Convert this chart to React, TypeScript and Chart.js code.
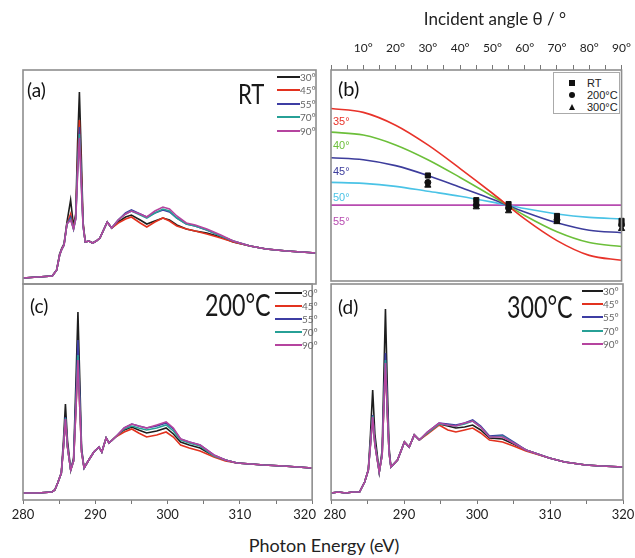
import React, { useEffect, useRef } from 'react';
import { Chart, registerables } from 'chart.js';

Chart.register(...registerables);

const FONT = 'Lato, "Open Sans", "DejaVu Sans", sans-serif';
const ARIAL = '"Liberation Sans", Arial, sans-serif';

// ---------- shared labels ----------
const angleLabels = ['30°', '45°', '55°', '70°', '90°'];
const specColors = ['#1e1e1e', '#e2321f', '#3d3da3', '#27a096', '#b5449f'];
const energyTickValues = [280, 290, 300, 310, 320];
const angleTickValues = [10, 20, 30, 40, 50, 60, 70, 80, 90];

// ---------- panel (a): RT ----------
const energyA = [280, 282, 284, 284.6, 285.0, 285.3, 285.6, 286.0, 286.5, 286.9, 287.2, 287.45, 287.7, 287.95, 288.2, 288.5, 289, 289.5, 290, 290.5, 291, 291.5, 292.1, 293, 294, 294.8, 296, 296.9, 298, 299.1, 300, 301, 302.3, 303.5, 305.1, 307, 308.7, 311, 313.2, 316, 320];
const rt30 = [0.06, 0.07, 0.08, 0.14, 0.30, 0.36, 0.40, 0.62, 0.84, 0.58, 0.70, 1.40, 1.92, 1.30, 0.62, 0.42, 0.43, 0.41, 0.43, 0.46, 0.54, 0.62, 0.56, 0.62, 0.67, 0.69, 0.64, 0.60, 0.63, 0.66, 0.64, 0.59, 0.55, 0.53, 0.51, 0.47, 0.42, 0.38, 0.35, 0.33, 0.31];
const rt45 = [0.06, 0.07, 0.08, 0.14, 0.29, 0.35, 0.39, 0.60, 0.70, 0.56, 0.67, 1.22, 1.64, 1.13, 0.60, 0.42, 0.43, 0.41, 0.43, 0.46, 0.54, 0.62, 0.56, 0.61, 0.65, 0.67, 0.61, 0.57, 0.62, 0.66, 0.63, 0.58, 0.55, 0.53, 0.50, 0.46, 0.42, 0.38, 0.35, 0.33, 0.31];
const rt55 = [0.06, 0.07, 0.08, 0.14, 0.29, 0.35, 0.39, 0.60, 0.67, 0.55, 0.66, 1.17, 1.57, 1.08, 0.59, 0.42, 0.43, 0.41, 0.43, 0.46, 0.54, 0.62, 0.56, 0.64, 0.71, 0.74, 0.70, 0.67, 0.71, 0.74, 0.72, 0.66, 0.60, 0.58, 0.54, 0.48, 0.43, 0.38, 0.35, 0.33, 0.31];
const rt70 = [0.06, 0.07, 0.08, 0.14, 0.29, 0.35, 0.39, 0.60, 0.65, 0.55, 0.65, 1.12, 1.50, 1.03, 0.58, 0.42, 0.43, 0.41, 0.43, 0.46, 0.54, 0.62, 0.56, 0.64, 0.70, 0.73, 0.69, 0.66, 0.71, 0.75, 0.73, 0.66, 0.60, 0.58, 0.54, 0.48, 0.43, 0.38, 0.35, 0.33, 0.31];
const rt90 = [0.06, 0.07, 0.08, 0.14, 0.29, 0.35, 0.39, 0.60, 0.64, 0.55, 0.65, 1.09, 1.46, 1.00, 0.58, 0.42, 0.43, 0.41, 0.43, 0.46, 0.54, 0.62, 0.56, 0.64, 0.70, 0.73, 0.70, 0.67, 0.73, 0.77, 0.75, 0.68, 0.61, 0.59, 0.55, 0.49, 0.43, 0.38, 0.35, 0.33, 0.31];

// ---------- panel (c): 200°C ----------
const energyC = [280, 282, 284, 284.4, 284.8, 285.3, 285.6, 285.87, 286.15, 286.6, 287.0, 287.35, 287.6, 287.85, 288.1, 288.45, 289.1, 289.8, 290.5, 290.9, 291.5, 291.9, 292.8, 294, 295.05, 296, 297.1, 298.5, 299.8, 300.8, 301.8, 303, 304.5, 306.4, 308, 309.6, 311.5, 313.3, 316, 320];
const c200_30 = [0.07, 0.07, 0.08, 0.10, 0.17, 0.27, 0.60, 0.96, 0.60, 0.30, 0.42, 1.25, 1.88, 1.22, 0.52, 0.32, 0.40, 0.48, 0.53, 0.48, 0.62, 0.57, 0.63, 0.70, 0.73, 0.70, 0.67, 0.69, 0.72, 0.66, 0.58, 0.55, 0.52, 0.44, 0.40, 0.37, 0.36, 0.35, 0.34, 0.32];
const c200_45 = [0.07, 0.07, 0.08, 0.10, 0.17, 0.27, 0.53, 0.81, 0.53, 0.30, 0.39, 0.95, 1.40, 0.93, 0.48, 0.32, 0.40, 0.48, 0.53, 0.48, 0.62, 0.57, 0.63, 0.68, 0.71, 0.67, 0.63, 0.65, 0.68, 0.63, 0.55, 0.52, 0.49, 0.43, 0.39, 0.37, 0.36, 0.35, 0.34, 0.32];
const c200_55 = [0.07, 0.07, 0.08, 0.10, 0.17, 0.27, 0.54, 0.83, 0.54, 0.30, 0.40, 1.07, 1.60, 1.05, 0.50, 0.32, 0.40, 0.48, 0.53, 0.48, 0.62, 0.57, 0.63, 0.72, 0.76, 0.74, 0.72, 0.74, 0.77, 0.71, 0.61, 0.58, 0.55, 0.45, 0.40, 0.37, 0.36, 0.35, 0.34, 0.32];
const c200_70 = [0.07, 0.07, 0.08, 0.10, 0.17, 0.27, 0.53, 0.82, 0.53, 0.30, 0.39, 0.98, 1.45, 0.96, 0.48, 0.32, 0.40, 0.48, 0.53, 0.48, 0.62, 0.57, 0.63, 0.71, 0.74, 0.72, 0.70, 0.72, 0.75, 0.69, 0.60, 0.57, 0.54, 0.44, 0.40, 0.37, 0.36, 0.35, 0.34, 0.32];
const c200_90 = [0.07, 0.07, 0.08, 0.10, 0.17, 0.27, 0.53, 0.81, 0.53, 0.30, 0.39, 0.95, 1.40, 0.93, 0.48, 0.32, 0.40, 0.48, 0.53, 0.48, 0.62, 0.57, 0.63, 0.72, 0.76, 0.74, 0.72, 0.75, 0.78, 0.72, 0.61, 0.58, 0.55, 0.45, 0.40, 0.37, 0.36, 0.35, 0.34, 0.32];

// ---------- panel (d): 300°C ----------
const energyD = [280, 281, 282, 283, 283.9, 284.6, 285.1, 285.4, 285.7, 286.0, 286.6, 287.0, 287.2, 287.45, 287.7, 287.95, 288.2, 289.1, 290.05, 290.7, 291.4, 292.1, 293.2, 294.8, 296, 297.1, 298.3, 299.4, 300.5, 301.7, 303.5, 305, 306.7, 309.9, 312, 314.9, 317, 320];
const c300_30 = [0.07, 0.08, 0.07, 0.08, 0.08, 0.18, 0.30, 0.66, 1.10, 0.66, 0.28, 0.50, 1.15, 1.91, 1.15, 0.52, 0.33, 0.40, 0.58, 0.53, 0.65, 0.60, 0.67, 0.76, 0.74, 0.72, 0.73, 0.75, 0.70, 0.62, 0.61, 0.56, 0.50, 0.42, 0.38, 0.35, 0.34, 0.33];
const c300_45 = [0.07, 0.08, 0.07, 0.08, 0.08, 0.18, 0.30, 0.56, 0.84, 0.56, 0.28, 0.45, 0.88, 1.37, 0.88, 0.47, 0.33, 0.40, 0.58, 0.53, 0.65, 0.60, 0.66, 0.75, 0.70, 0.68, 0.70, 0.72, 0.67, 0.60, 0.58, 0.54, 0.49, 0.42, 0.38, 0.35, 0.34, 0.33];
const c300_55 = [0.07, 0.08, 0.07, 0.08, 0.08, 0.18, 0.30, 0.57, 0.85, 0.57, 0.28, 0.46, 0.93, 1.47, 0.93, 0.48, 0.33, 0.40, 0.58, 0.53, 0.65, 0.60, 0.68, 0.77, 0.76, 0.75, 0.77, 0.80, 0.74, 0.64, 0.65, 0.58, 0.50, 0.42, 0.38, 0.35, 0.34, 0.33];
const c300_70 = [0.07, 0.08, 0.07, 0.08, 0.08, 0.18, 0.30, 0.56, 0.84, 0.56, 0.28, 0.45, 0.89, 1.40, 0.89, 0.47, 0.33, 0.40, 0.58, 0.53, 0.65, 0.60, 0.67, 0.76, 0.75, 0.74, 0.76, 0.79, 0.73, 0.63, 0.64, 0.57, 0.50, 0.42, 0.38, 0.35, 0.34, 0.33];
const c300_90 = [0.07, 0.08, 0.07, 0.08, 0.08, 0.18, 0.30, 0.55, 0.83, 0.55, 0.28, 0.45, 0.88, 1.37, 0.88, 0.47, 0.33, 0.40, 0.58, 0.53, 0.65, 0.60, 0.68, 0.77, 0.75, 0.74, 0.77, 0.79, 0.73, 0.63, 0.63, 0.57, 0.50, 0.42, 0.38, 0.35, 0.34, 0.33];

// ---------- panel (b): angular dependence ----------
const fitAngles = [0, 10, 20, 30, 40, 50, 60, 70, 80, 90];
const tiltLabels = ['35°', '40°', '45°', '50°', '55°'];
const tiltColors = ['#e8332a', '#6cbf3a', '#3d3d9c', '#4ac3e6', '#b74bb0'];
const fit35 = [1.75, 1.71, 1.58, 1.38, 1.14, 0.89, 0.63, 0.41, 0.26, 0.21];
const fit40 = [1.51, 1.48, 1.38, 1.23, 1.05, 0.86, 0.665, 0.50, 0.39, 0.35];
const fit45 = [1.25, 1.23, 1.17, 1.07, 0.95, 0.83, 0.70, 0.59, 0.515, 0.49];
const fit50 = [1.00, 0.99, 0.96, 0.91, 0.86, 0.80, 0.735, 0.68, 0.645, 0.63];
const fit55 = [0.77, 0.77, 0.77, 0.77, 0.77, 0.77, 0.77, 0.77, 0.77, 0.77];
const measuredAngles = [30, 45, 55, 70, 90];
const sampleLabels = ['RT', '200°C', '300°C'];
const rtPoints = [1.07, 0.82, 0.78, 0.66, 0.61];
const c200Points = [1.00, 0.77, 0.74, 0.62, 0.57];
const c300Points = [0.97, 0.75, 0.71, 0.60, 0.53];

const PADX = 18;
const AXIS_H = 26;

const boxPlugin = {
  id: 'panelBox',
  afterDatasetsDraw(chart: any) {
    const { ctx, chartArea } = chart;
    ctx.save();
    ctx.strokeStyle = '#8e8e8e';
    ctx.lineWidth = 1.6;
    ctx.strokeRect(chartArea.left, chartArea.top, chartArea.right - chartArea.left, chartArea.bottom - chartArea.top);
    ctx.restore();
  },
};

function spectrumConfig(energy: number[], series: number[][], ymax: number, showAxis: boolean, side: 'left' | 'right'): any {
  // dataset 0 is drawn on top -> 90° first, 30° last
  const order = [4, 3, 2, 1, 0];
  const xScale: any = {
    type: 'linear',
    min: 280,
    max: 320,
    display: showAxis,
    position: 'bottom',
    grid: { drawOnChartArea: false, drawTicks: true, tickLength: 4, color: '#777', lineWidth: 1 },
    border: { display: false },
    ticks: {
      stepSize: 5,
      autoSkip: false,
      maxRotation: 0,
      minRotation: 0,
      padding: 3,
      color: '#222',
      font: { family: FONT, size: 13 },
      callback: (v: number) => {
        if (!energyTickValues.includes(v)) return '';
        if (side === 'left' && v === 320) return '320\u2007\u2007';
        if (side === 'right' && v === 280) return '\u2007280';
        return String(v);
      },
    },
  };
  if (showAxis) {
    xScale.afterFit = (s: any) => {
      s.height = AXIS_H;
    };
  }
  return {
    type: 'line',
    data: {
      datasets: order.map((k) => ({
        label: angleLabels[k],
        data: energy.map((e, i) => ({ x: e, y: series[k][i] })),
        borderColor: specColors[k],
        borderWidth: 1.6,
        pointRadius: 0,
        tension: 0,
        fill: false,
      })),
    },
    options: {
      responsive: false,
      animation: false,
      layout: { padding: { left: PADX, right: PADX, top: 2, bottom: 2 } },
      plugins: { legend: { display: false }, tooltip: { enabled: false } },
      scales: {
        x: xScale,
        y: { display: false, min: 0, max: ymax },
      },
    },
    plugins: [boxPlugin],
  };
}

function angleConfig(): any {
  const fits = [fit35, fit40, fit45, fit50, fit55];
  const pts = [rtPoints, c200Points, c300Points];
  const styles = ['rect', 'circle', 'triangle'];
  const radii = [3.6, 3, 3.6];
  return {
    type: 'line',
    data: {
      datasets: [
        ...pts.map((p, j) => ({
          label: sampleLabels[j],
          data: measuredAngles.map((a, i) => ({ x: a, y: p[i] })),
          showLine: false,
          pointStyle: styles[j],
          pointRadius: radii[j],
          backgroundColor: '#111',
          borderColor: '#111',
          borderWidth: 1,
          clip: false,
        })),
        ...fits.map((f, k) => ({
          label: tiltLabels[k],
          data: fitAngles.map((a, i) => ({ x: a, y: f[i] })),
          borderColor: tiltColors[k],
          borderWidth: 1.6,
          pointRadius: 0,
          cubicInterpolationMode: 'monotone',
          fill: false,
        })),
      ],
    },
    options: {
      responsive: false,
      animation: false,
      layout: { padding: { left: PADX, right: PADX, top: 2, bottom: 2 } },
      plugins: { legend: { display: false }, tooltip: { enabled: false } },
      scales: {
        x: {
          type: 'linear',
          position: 'top',
          min: 0,
          max: 90,
          grid: { drawOnChartArea: false, drawTicks: true, tickLength: 5, color: '#777', lineWidth: 1 },
          border: { display: false },
          ticks: {
            stepSize: 5,
            autoSkip: false,
            maxRotation: 0,
            minRotation: 0,
            padding: 10,
            color: '#222',
            font: { family: FONT, size: 12 },
            callback: (v: number) => (angleTickValues.includes(v) ? `${v}°` : ''),
          },
          afterFit: (s: any) => {
            s.height = 68;
          },
        },
        y: { display: false, min: 0, max: 2.14 },
      },
    },
    plugins: [boxPlugin],
  };
}

function ChartCanvas({ left, top, width, height, make }: { left: number; top: number; width: number; height: number; make: () => any }) {
  const ref = useRef<HTMLCanvasElement | null>(null);
  useEffect(() => {
    if (!ref.current) return;
    const chart = new Chart(ref.current, make());
    return () => chart.destroy();
  }, []);
  return <canvas ref={ref} width={width} height={height} style={{ position: 'absolute', left, top, width, height }} />;
}

function Txt({ x, y, size, children, color = '#1a1a1a', family = FONT, align = 'left', sx = 1, sy = 1 }: any) {
  const tx = align === 'center' ? '-50%' : align === 'right' ? '-100%' : '0';
  return (
    <div
      style={{
        position: 'absolute',
        left: x,
        top: y,
        transform: `translate(${tx},-50%) scale(${sx},${sy})`,
        transformOrigin: align === 'center' ? 'center center' : 'left center',
        fontFamily: family,
        fontSize: size,
        lineHeight: 1,
        color,
        whiteSpace: 'nowrap',
      }}
    >
      {children}
    </div>
  );
}

function SpecLegend({ y0, dy, x1, x2 }: { y0: number; dy: number; x1: number; x2: number }) {
  return (
    <>
      {angleLabels.map((lab, i) => {
        const yy = Math.round(y0 + i * dy);
        return (
          <React.Fragment key={lab}>
            <div style={{ position: 'absolute', left: x1, top: yy - 1, width: x2 - x1, height: 1.5, background: specColors[i] }} />
            <Txt x={x2} y={yy} size={10} color="#666">
              {lab}
            </Txt>
          </React.Fragment>
        );
      })}
    </>
  );
}

function Marker({ kind, x, y }: { kind: number; x: number; y: number }) {
  if (kind === 2) {
    return (
      <div
        style={{
          position: 'absolute',
          left: x - 3.5,
          top: y - 3.5,
          width: 0,
          height: 0,
          borderLeft: '3.5px solid transparent',
          borderRight: '3.5px solid transparent',
          borderBottom: '6px solid #111',
        }}
      />
    );
  }
  return (
    <div
      style={{
        position: 'absolute',
        left: x - 3,
        top: y - 3,
        width: 6,
        height: 6,
        background: '#111',
        borderRadius: kind === 1 ? '50%' : 0,
      }}
    />
  );
}

export default function App() {
  const A = { l: 23, t: 70, w: 293, h: 214 };
  const B = { l: 331, t: 70, w: 292, h: 214 };
  const C = { l: 23, t: 284, w: 293, h: 216 };
  const D = { l: 331, t: 284, w: 292, h: 216 };
  return (
    <div style={{ position: 'absolute', left: 0, top: 0, width: 635, height: 558, background: '#fff', overflow: 'hidden' }}>
      <ChartCanvas
        left={A.l - PADX}
        top={A.t - 2}
        width={A.w + 2 * PADX}
        height={A.h + 4}
        make={() => spectrumConfig(energyA, [rt30, rt45, rt55, rt70, rt90], 2.14, false, 'left')}
      />
      <ChartCanvas left={B.l - PADX} top={0} width={B.w + 2 * PADX} height={2 + 68 + B.h + 2} make={angleConfig} />
      <ChartCanvas
        left={C.l - PADX}
        top={C.t - 2}
        width={C.w + 2 * PADX}
        height={C.h + 2 + AXIS_H + 2}
        make={() => spectrumConfig(energyC, [c200_30, c200_45, c200_55, c200_70, c200_90], 2.16, true, 'left')}
      />
      <ChartCanvas
        left={D.l - PADX}
        top={D.t - 2}
        width={D.w + 2 * PADX}
        height={D.h + 2 + AXIS_H + 2}
        make={() => spectrumConfig(energyD, [c300_30, c300_45, c300_55, c300_70, c300_90], 2.16, true, 'right')}
      />

      {/* axis titles */}
      <Txt x={495} y={18} size={17} align="center" color="#222">
        Incident angle θ / °
      </Txt>
      <Txt x={324} y={545} size={18} align="center" color="#222">
        Photon Energy (eV)
      </Txt>

      {/* panel (a) */}
      <Txt x={27} y={89} size={19} color="#111">(a)</Txt>
      <Txt x={238} y={92.5} size={27} sx={0.82}>RT</Txt>
      <SpecLegend y0={76.5} dy={13.6} x1={277} x2={300} />

      {/* panel (b) */}
      <Txt x={338} y={88} size={20} color="#111">(b)</Txt>
      {tiltLabels.map((t, i) => (
        <Txt key={t} x={333} y={[121, 145, 171, 197, 221][i]} size={11} color={tiltColors[i]} family={ARIAL}>
          {t}
        </Txt>
      ))}
      <div style={{ position: 'absolute', left: 553, top: 72, width: 67, height: 42, border: '1px solid #aaa', boxSizing: 'border-box', background: '#fff' }} />
      {sampleLabels.map((s, i) => (
        <React.Fragment key={s}>
          <Marker kind={i} x={572} y={83 + i * 12} />
          <Txt x={587} y={83 + i * 12} size={11} family={ARIAL} color="#222">
            {s}
          </Txt>
        </React.Fragment>
      ))}

      {/* panel (c) */}
      <Txt x={30} y={305} size={19} color="#111">(c)</Txt>
      <Txt x={205} y={303.5} size={31} sx={0.75}>200°C</Txt>
      <SpecLegend y0={292.5} dy={13} x1={275} x2={302} />

      {/* panel (d) */}
      <Txt x={338} y={306} size={19} color="#111">(d)</Txt>
      <Txt x={507} y={306} size={31} sx={0.75}>300°C</Txt>
      <SpecLegend y0={290.5} dy={13.4} x1={582} x2={603} />
    </div>
  );
}
